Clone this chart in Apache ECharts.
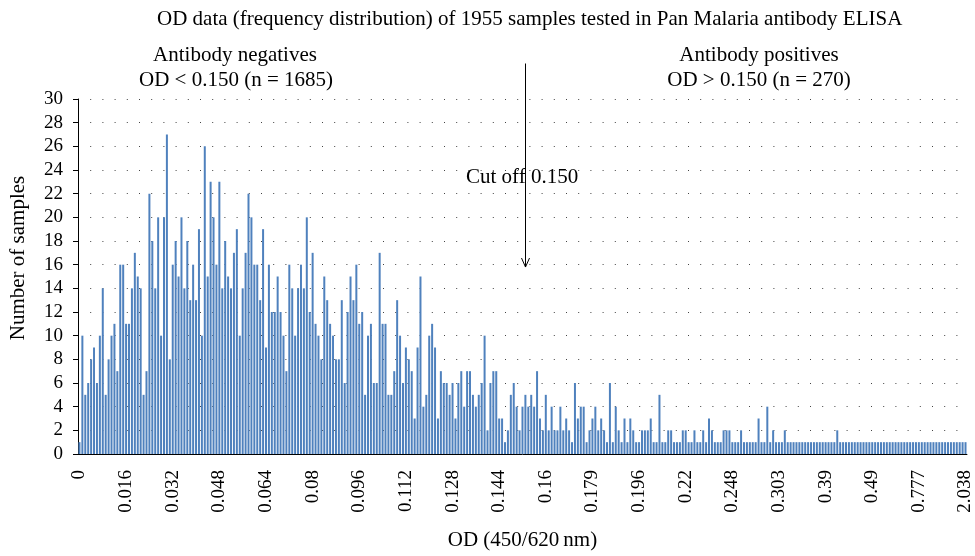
<!DOCTYPE html>
<html>
<head>
<meta charset="utf-8">
<script src="https://cdn.jsdelivr.net/npm/echarts@6/dist/echarts.min.js"></script>
<style>
  html, body { margin: 0; padding: 0; background: #fff; }
  #chart { width: 975px; height: 556px; }
</style>
</head>
<body>
<div id="chart"></div>
<script>
// Histogramme des DO : nombre d'échantillons par classe (une classe par barre)
const counts = [
  1, 10, 5, 6, 8, 9, 6, 10, 14, 5,
  8, 10, 11, 7, 16, 16, 11, 11, 14, 17,
  15, 14, 5, 7, 22, 18, 14, 20, 10, 20,
  27, 8, 16, 18, 15, 20, 14, 18, 13, 16,
  13, 19, 10, 26, 15, 23, 20, 16, 23, 14,
  18, 15, 14, 17, 19, 10, 14, 17, 22, 20,
  16, 16, 13, 19, 9, 16, 12, 12, 15, 12,
  10, 7, 16, 14, 10, 14, 16, 14, 20, 12,
  17, 11, 10, 8, 15, 13, 11, 10, 8, 8,
  13, 6, 12, 15, 13, 16, 11, 12, 5, 10,
  11, 6, 6, 17, 11, 11, 5, 5, 7, 13,
  10, 6, 9, 8, 7, 3, 9, 15, 4, 5,
  10, 11, 9, 3, 7, 6, 6, 5, 6, 3,
  6, 7, 4, 7, 7, 5, 4, 5, 6, 10,
  2, 6, 7, 7, 3, 3, 1, 2, 5, 6,
  4, 2, 4, 5, 4, 5, 4, 7, 3, 2,
  5, 2, 4, 2, 2, 4, 2, 3, 2, 1,
  6, 3, 4, 4, 1, 2, 3, 4, 2, 3,
  2, 1, 6, 1, 4, 2, 1, 3, 1, 3,
  2, 1, 1, 2, 2, 2, 3, 1, 1, 5,
  1, 1, 2, 2, 1, 1, 1, 2, 2, 1,
  1, 2, 1, 1, 2, 1, 3, 2, 1, 1,
  1, 2, 2, 2, 1, 1, 1, 2, 1, 1,
  1, 1, 1, 3, 1, 1, 4, 1, 2, 1,
  1, 1, 2, 1, 1, 1, 1, 1, 1, 1,
  1, 1, 1, 1, 1, 1, 1, 1, 1, 1,
  2, 1, 1, 1, 1, 1, 1, 1, 1, 1,
  1, 1, 1, 1, 1, 1, 1, 1, 1, 1,
  1, 1, 1, 1, 1, 1, 1, 1, 1, 1,
  1, 1, 1, 1, 1, 1, 1, 1, 1, 1,
  1, 1, 1, 1, 1
];

// Une étiquette toutes les 16 classes
const tickLabels = [
  '0', '0.016', '0.032', '0.048', '0.064', '0.08', '0.096', '0.112', '0.128', '0.144',
  '0.16', '0.179', '0.196', '0.22', '0.248', '0.303', '0.39', '0.49', '0.777', '2.038'
];

const categories = counts.map((_, i) => String(i));
const cutoffIndex = 153;   // position de la flèche "Cut off 0.150"

const serif = "'Liberation Serif', 'DejaVu Serif', serif";

const chart = echarts.init(document.getElementById('chart'));

chart.setOption({
  animation: false,
  title: {
    text: 'OD data (frequency distribution) of 1955 samples tested in Pan Malaria antibody ELISA',
    left: 152,
    top: 4,
    textStyle: { fontFamily: serif, fontSize: 21, fontWeight: 'normal', color: '#000' }
  },
  grid: { left: 78, right: 4, top: 99, bottom: 98, containLabel: false },
  xAxis: {
    type: 'category',
    data: categories,
    name: 'OD (450/620\u2009nm)',
    nameLocation: 'middle',
    nameGap: 76,
    nameTextStyle: { fontFamily: serif, fontSize: 21, color: '#000' },
    axisLine: { lineStyle: { color: '#000', width: 1 } },
    axisTick: { interval: 0, length: 5, lineStyle: { color: '#000' } },
    axisLabel: {
      interval: 15,
      rotate: 90,
      margin: 16,
      fontFamily: serif,
      fontSize: 19,
      color: '#000',
      formatter: (v, idx) => tickLabels[idx / 16] || ''
    }
  },
  yAxis: {
    type: 'value',
    min: 0,
    max: 30,
    interval: 2,
    axisLine: { show: true, lineStyle: { color: '#000', width: 1 } },
    axisTick: { show: true, length: 5, lineStyle: { color: '#000' } },
    axisLabel: { margin: 15, fontFamily: serif, fontSize: 19, color: '#000' },
    splitLine: { lineStyle: { color: '#444', width: 1, type: [1, 11.2] } }
  },
  series: [{
    type: 'bar',
    data: counts,
    barWidth: 2,
    itemStyle: { color: '#4F81BD' }
  }]
});

// Annotations et flèche du seuil, placées via les axes
const p0 = chart.convertToPixel({ gridIndex: 0 }, [cutoffIndex, 33]);
const p1 = chart.convertToPixel({ gridIndex: 0 }, [cutoffIndex, 15.8]);
const ax = Math.round(p0[0]) + 0.5;
const txt = (x, y, text) => ({
  type: 'text', x, y,
  style: { text, font: '21px ' + serif, fill: '#000', align: 'center', verticalAlign: 'middle' }
});

chart.setOption({
  graphic: [
    txt(235, 55, 'Antibody negatives'),
    txt(236, 80, 'OD < 0.150 (n = 1685)'),
    txt(759, 55, 'Antibody positives'),
    txt(759, 80, 'OD > 0.150 (n = 270)'),
    {
      // titre de l'axe Y
      type: 'text', x: 18, y: 258, rotation: Math.PI / 2,
      style: { text: 'Number of samples', font: '21px ' + serif, fill: '#000', align: 'center', verticalAlign: 'middle' }
    },
    {
      type: 'text', x: 466, y: 177,
      style: { text: 'Cut off 0.150', font: '21px ' + serif, fill: '#000', align: 'left', verticalAlign: 'middle' }
    },
    {
      type: 'line',
      shape: { x1: ax, y1: p0[1], x2: ax, y2: p1[1] },
      style: { stroke: '#000', lineWidth: 1 }
    },
    {
      type: 'polyline',
      shape: { points: [[ax - 4, p1[1] - 9], [ax, p1[1]], [ax + 4, p1[1] - 9]] },
      style: { stroke: '#000', lineWidth: 1, fill: null }
    }
  ]
});
</script>
</body>
</html>
